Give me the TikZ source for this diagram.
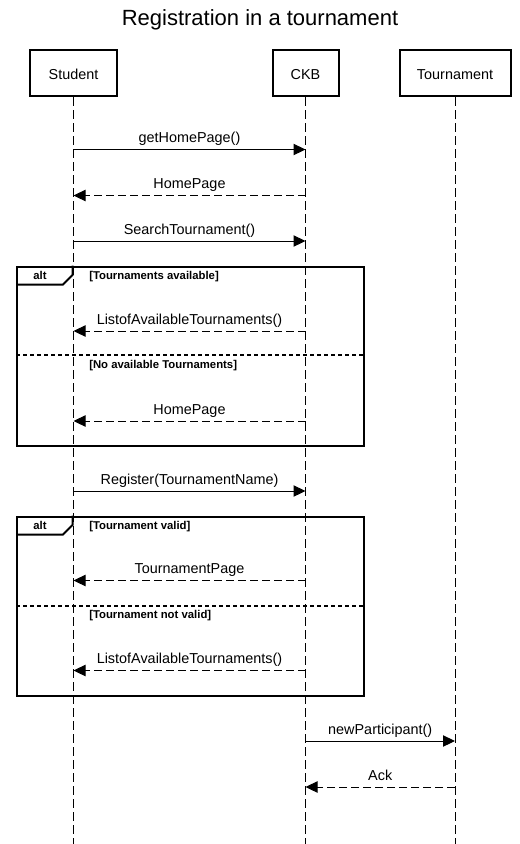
\documentclass[tikz,border=0pt]{standalone}
\usepackage{fontspec}
\setmainfont{Liberation Sans}
\usetikzlibrary{arrows.meta,calc}
\newcommand{\boxlabel}[1]{\raisebox{-5pt}[0pt][0pt]{#1}}
\begin{document}
\begin{tikzpicture}[x=0.75pt,y=-0.75pt,
  txt/.style={font=\fontsize{10.8}{13}\selectfont},
  actor/.style={draw,line width=1.5pt,minimum height=34.5pt,inner sep=0,txt},
  lifeline/.style={line width=0.75pt,dash pattern=on 6.75pt off 3pt},
  call/.style={line width=0.75pt,-{Triangle[length=9pt,width=8.5pt]}},
  reply/.style={call,dash pattern=on 6pt off 3pt},
  lbl/.style={midway,anchor=base,inner sep=0,yshift=5pt,txt},
  frame/.style={draw,line width=1.5pt,inner sep=0,anchor=north west},
  divider/.style={line width=1.5pt,dash pattern=on 3pt off 2.25pt},
  guard/.style={anchor=base west,inner sep=0,font=\fontsize{8.5}{10}\selectfont\bfseries},
  opname/.style={anchor=base,inner sep=0,font=\fontsize{8.5}{10}\selectfont\bfseries},
]
\useasboundingbox (0,0) rectangle (519,844);

% title
\node[anchor=base,inner sep=0,font=\fontsize{16.5}{20}\selectfont] (title) at (260,25) {Registration in a tournament};

% participants
\node[actor,minimum width=65.25pt] (student) at (73.5,73) {\boxlabel{Student}};
\node[actor,minimum width=49.5pt] (ckb) at (305.5,73) {\boxlabel{CKB}};
\node[actor,minimum width=83.25pt] (tour) at (455,73) {\boxlabel{Tournament}};

\coordinate (studentEnd) at (73.5,844);
\coordinate (ckbEnd) at (305.5,844);
\coordinate (tourEnd) at (455,844);
\draw[lifeline] (student.south) -- (studentEnd);
\draw[lifeline] (ckb.south) -- (ckbEnd);
\draw[lifeline] (tour.south) -- (tourEnd);

% message anchor points on the lifelines
\foreach \n/\y in {1/149.5,2/195.5,3/241,4/331,5/421,6/491,7/580.5,8/670.5}{
  \coordinate (s\n) at (73.5,\y);
  \coordinate (c\n) at (305.5,\y);
}
\coordinate (c9) at (305.5,741);
\coordinate (t9) at (455,741);
\coordinate (c10) at (305.5,787);
\coordinate (t10) at (455,787);

% messages
\draw[call] (s1) -- node[lbl] {getHomePage()} (c1);
\draw[reply] (c2) -- node[lbl] {HomePage} (s2);
\draw[call] (s3) -- node[lbl] {SearchTournament()} (c3);
\draw[reply] (c4) -- node[lbl] {ListofAvailableTournaments()} (s4);
\draw[reply] (c5) -- node[lbl] {HomePage} (s5);
\draw[call] (s6) -- node[lbl] {Register(TournamentName)} (c6);
\draw[reply] (c7) -- node[lbl] {TournamentPage} (s7);
\draw[reply] (c8) -- node[lbl] {ListofAvailableTournaments()} (s8);
\draw[call] (c9) -- node[lbl] {newParticipant()} (t9);
\draw[reply] (t10) -- node[lbl] {Ack} (c10);

% first alt fragment
\node[frame,minimum width=260.25pt,minimum height=134.25pt] (alt1) at (16,265.5) {};
\draw[line width=1.5pt] ($(alt1.north west)+(0,19)$) -- ++(47,0) -- ++(9.5,-9.5) -- ++(0,-9.5);
\node[opname] (alt1op) at ($(alt1.north west)+(24,13.5)$) {alt};
\node[guard] (alt1g1) at ($(alt1.north west)+(73,13.5)$) {[Tournaments available]};
\draw[divider] ($(alt1.north west)+(0,89.5)$) -- ($(alt1.north east)+(0,89.5)$);
\node[guard] (alt1g2) at ($(alt1.north west)+(73,102.5)$) {[No available Tournaments]};

% second alt fragment
\node[frame,minimum width=260.25pt,minimum height=134.6pt] (alt2) at (16,515.5) {};
\draw[line width=1.5pt] ($(alt2.north west)+(0,19)$) -- ++(47,0) -- ++(9.5,-9.5) -- ++(0,-9.5);
\node[opname] (alt2op) at ($(alt2.north west)+(24,13.5)$) {alt};
\node[guard] (alt2g1) at ($(alt2.north west)+(73,13.5)$) {[Tournament valid]};
\draw[divider] ($(alt2.north west)+(0,90)$) -- ($(alt2.north east)+(0,90)$);
\node[guard] (alt2g2) at ($(alt2.north west)+(73,103)$) {[Tournament not valid]};
\end{tikzpicture}
\end{document}
